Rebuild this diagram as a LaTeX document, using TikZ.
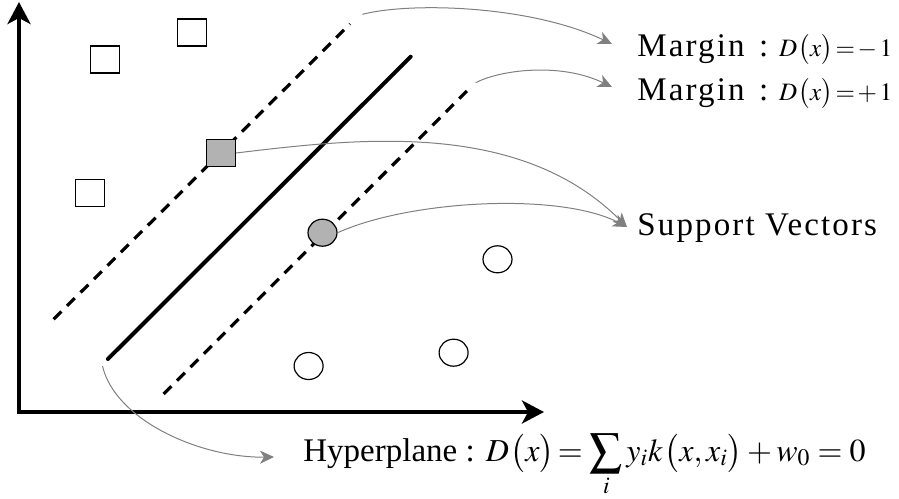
\documentclass[tikz,border=0pt]{standalone}
\usepackage{graphicx}
\usepackage{mathptmx}
\usepackage[no-math]{fontspec}
\setmainfont{Liberation Serif}
\newfontfamily\lspaced[LetterSpace=6.5]{Liberation Serif}
\usetikzlibrary{arrows.meta, shapes.geometric, calc}

\newcommand{\bigsum}{\mathop{\vcenter{\hbox{\scalebox{1.45}{$\textstyle\sum$}}}}\limits}

\begin{document}
\begin{tikzpicture}[x=0.5pt, y=-0.5pt,
    axis/.style={line width=2pt, {Stealth[length=11pt, width=11.5pt, inset=3pt]}-{Stealth[length=11pt, width=11.5pt, inset=3pt]}},
    margin/.style={line width=1.6pt, dash pattern=on 5.5pt off 4pt},
    hyper/.style={line width=2pt, line cap=round},
    pt/.style={draw, line width=0.6pt, minimum width=14.5pt, minimum height=13.5pt, inner sep=0pt},
    sq/.style={pt, rectangle},
    ci/.style={pt, ellipse},
    sv/.style={fill=black!30},
    callout/.style={black!50, line width=0.5pt, -{Stealth[length=7pt, width=6.5pt, inset=2pt]}},
    lbl/.style={anchor=base west, inner sep=0pt, font=\fontsize{16.5}{19}\selectfont}]

    \useasboundingbox (0,0) rectangle (899,498);

    \coordinate (O) at (19,412);
    \coordinate (ytip) at (19,2);
    \coordinate (xtip) at (544,412);
    \draw[axis] (ytip) -- (O) -- (xtip);

    \coordinate (m1a) at (53.6,319.3);
    \coordinate (m1b) at (350,24);
    \coordinate (ha) at (107.9,359);
    \coordinate (hb) at (410.7,56.7);
    \coordinate (m2a) at (163.6,394);
    \coordinate (m2b) at (466.8,91);
    \draw[margin] (m1a) -- (m1b);
    \draw[hyper] (ha) -- (hb);
    \draw[margin] (m2a) -- (m2b);

    \node[sq] (sqA) at (105,59.5) {};
    \node[sq] (sqB) at (192,32.5) {};
    \node[sq] (sqC) at (90,193) {};
    \node[sq, sv] (svA) at (221,153) {};
    \node[ci, sv] (svB) at (322.5,232.7) {};
    \node[ci] (ciA) at (497.5,259.3) {};
    \node[ci] (ciB) at (308.6,366) {};
    \node[ci] (ciC) at (453.6,352.7) {};

    \node[lbl] (mg1) at (637,56) {{\lspaced Margin\hspace{2pt} :} {\fontsize{12.5}{15}\selectfont$D\mkern1mu\bigl(x\bigr)\mkern2mu{=}\mkern2mu{-}\mkern2mu1$}};
    \node[lbl] (mg2) at (637,100) {{\lspaced Margin\hspace{2pt} :} {\fontsize{12.5}{15}\selectfont$D\mkern1mu\bigl(x\bigr)\mkern2mu{=}\mkern2mu{+}\mkern2mu1$}};
    \node[lbl] (svl) at (637,235) {\lspaced Support Vectors};
    \node[lbl] (hyp) at (303,461) {Hyperplane : {\fontsize{16}{19}\selectfont$D\mkern1mu\bigl(x\bigr)\mkern2mu{=}\mkern2mu\bigsum_i y_i k\mkern1mu\bigl(x,x_i\bigr)+w_0=0$}};

    \coordinate (c1) at (362.5,14.3);
    \coordinate (c2) at (475.7,82.7);
    \coordinate (c5) at (102.5,366);

    \draw[callout] (c1) .. controls (410,2) and (530,5) .. ($(mg1.base west)+(-25,-12)$);
    \draw[callout] (c2) .. controls (500,70) and (560,62) .. ($(mg2.base west)+(-25,-13)$);
    \draw[callout] (svA.east) .. controls (360,138) and (520,120) .. ($(svl.base west)+(-10,-8)$);
    \draw[callout] (svB.east) .. controls (410,200) and (560,192) .. ($(svl.base west)+(-10,-8)$);
    \draw[callout] (c5) .. controls (115,420) and (200,458) .. ($(hyp.base west)+(-29,-4)$);

\end{tikzpicture}
\end{document}
